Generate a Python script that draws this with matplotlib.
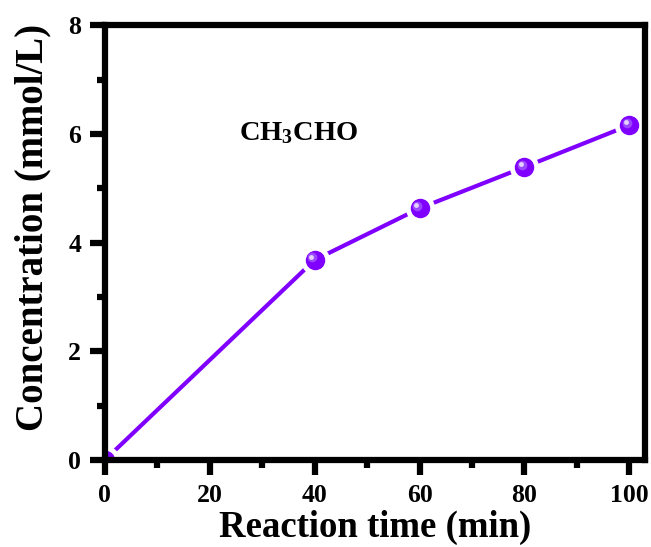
import numpy as np
import matplotlib
matplotlib.use('Agg')
import matplotlib.pyplot as plt
from matplotlib.ticker import MultipleLocator
import matplotlib.transforms as mtransforms

time_min = [0, 40, 60, 80, 100]
conc = [0.0, 3.68, 4.63, 5.39, 6.16]
x_ticks = [0, 20, 40, 60, 80, 100]
y_ticks = [0, 2, 4, 6, 8]

purple = '#7f00ff'

plt.rcParams['font.family'] = ['Liberation Serif', 'DejaVu Serif']
plt.rcParams['font.weight'] = 'bold'
plt.rcParams['mathtext.fontset'] = 'custom'
plt.rcParams['mathtext.rm'] = 'Liberation Serif:bold'
plt.rcParams['mathtext.bf'] = 'Liberation Serif:bold'
plt.rcParams['mathtext.it'] = 'Liberation Serif:bold'

fig = plt.figure(figsize=(6.51, 5.47), dpi=100)
ax = fig.add_axes([0.161, 0.159, 0.830, 0.795])

x = np.array(time_min, dtype=float)
y = np.array(conc)
ax.plot(x, y, color=purple, lw=3, zorder=2)
# white rings give the gaps between line and markers
ax.plot(x, y, 'o', ms=20, color='white', mec='white', zorder=3)
ax.plot(x, y, 'o', ms=13, color=purple, mec=purple, zorder=4)
# simple shading so the markers look like spheres
shift = mtransforms.offset_copy(ax.transData, fig=fig, x=-1.8, y=1.8, units='points')
ax.plot(x, y, 'o', ms=7, color='#9a48ff', mec='none', zorder=5, transform=shift)
shift2 = mtransforms.offset_copy(ax.transData, fig=fig, x=-2.3, y=2.3, units='points')
ax.plot(x, y, 'o', ms=3.5, color='#e6d2ff', mec='none', zorder=6, transform=shift2)

ax.set_xlim(0, 103)
ax.set_ylim(0, 8)
ax.set_xticks(x_ticks)
ax.set_yticks(y_ticks)
ax.xaxis.set_minor_locator(MultipleLocator(10))
ax.yaxis.set_minor_locator(MultipleLocator(1))

for s in ax.spines.values():
    s.set_linewidth(4.5)
    s.set_zorder(10)
ax.tick_params(which='major', direction='out', length=11, width=4.5, labelsize=18.5, pad=6)
ax.tick_params(which='minor', direction='out', length=5.5, width=4.5)
ax.tick_params(top=False, right=False, which='both')

ax.set_xlabel('Reaction time (min)', fontsize=26.5, fontweight='bold', labelpad=2)
ax.set_ylabel('Concentration (mmol/L)', fontsize=28, fontweight='bold')
ax.yaxis.set_label_coords(-0.098, 0.536)

ax.text(0.249, 0.752, r'CH$_\mathbf{3}$CHO', transform=ax.transAxes, fontsize=20.5,
        fontweight='bold', ha='left', va='center')

fig.savefig('out.png', dpi=100)
